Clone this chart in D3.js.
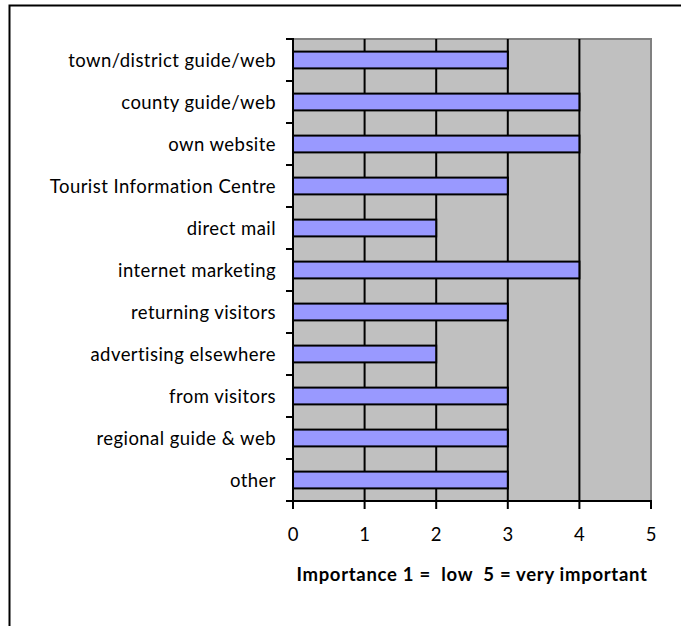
<!DOCTYPE html>
<html>
<head>
<meta charset="utf-8">
<script src="https://cdn.jsdelivr.net/npm/d3@7"></script>
<style>
  html, body { margin: 0; padding: 0; background: #fff; }
  svg { display: block; }
</style>
</head>
<body>
<svg id="chart" width="681" height="626"></svg>
<script>
// Promotion channels, top to bottom, with their rated importance
const categories = [
  "town/district guide/web",
  "county guide/web",
  "own website",
  "Tourist Information Centre",
  "direct mail",
  "internet marketing",
  "returning visitors",
  "advertising elsewhere",
  "from visitors",
  "regional guide & web",
  "other"
];
const importance = [3, 4, 4, 3, 2, 4, 3, 2, 3, 3, 3];
const xTicks = [0, 1, 2, 3, 4, 5];
const axisTitle = "Importance 1 =  low  5 = very important";

const font = "Lato, 'Open Sans', sans-serif";
const svg = d3.select("#chart");

// outer frame
svg.append("rect")
  .attr("x", 9.5).attr("y", 5.5)
  .attr("width", 700).attr("height", 700)
  .attr("fill", "#fff").attr("stroke", "#000").attr("stroke-width", 2);

const plotLeft = 293, plotRight = 651, plotTop = 39, plotBottom = 501;

const x = d3.scaleLinear().domain([0, 5]).range([plotLeft, plotRight]);
const y = d3.scaleBand().domain(categories).range([plotTop, plotBottom])
  .paddingInner(0.6).paddingOuter(0.3);
const yBounds = d3.scaleLinear().domain([0, categories.length]).range([plotTop, plotBottom]);

// plot background
svg.append("rect")
  .attr("x", plotLeft).attr("y", plotTop)
  .attr("width", plotRight - plotLeft).attr("height", plotBottom - plotTop)
  .attr("fill", "#C0C0C0").attr("stroke", "#808080").attr("stroke-width", 2);

// vertical gridlines
svg.append("g").selectAll("line")
  .data(xTicks.filter(t => t > 0 && t < 5))
  .join("line")
  .attr("x1", d => x(d)).attr("x2", d => x(d))
  .attr("y1", plotTop).attr("y2", plotBottom)
  .attr("stroke", "#000").attr("stroke-width", 2);

// bars
svg.append("g").selectAll("rect")
  .data(categories)
  .join("rect")
  .attr("x", x(0))
  .attr("y", d => y(d))
  .attr("width", (d, i) => x(importance[i]) - x(0))
  .attr("height", y.bandwidth())
  .attr("fill", "#9999FF")
  .attr("stroke", "#000").attr("stroke-width", 2);

// y axis: line, ticks at category boundaries, labels
const yAxis = svg.append("g");
yAxis.append("line")
  .attr("x1", plotLeft).attr("x2", plotLeft).attr("y1", plotTop - 1).attr("y2", plotBottom + 1)
  .attr("stroke", "#000").attr("stroke-width", 2);
yAxis.selectAll("line.tick")
  .data(d3.range(categories.length + 1))
  .join("line").attr("class", "tick")
  .attr("x1", plotLeft - 7).attr("x2", plotLeft)
  .attr("y1", d => yBounds(d)).attr("y2", d => yBounds(d))
  .attr("stroke", "#000").attr("stroke-width", 2);
yAxis.selectAll("text")
  .data(categories)
  .join("text")
  .attr("x", plotLeft - 17)
  .attr("y", d => y(d) + y.bandwidth() / 2 + 6.5)
  .attr("text-anchor", "end")
  .attr("font-family", font).attr("font-size", 18.5)
  .attr("letter-spacing", 0.45)
  .attr("fill", "#000")
  .text(d => d);

// x axis
const xAxis = svg.append("g");
xAxis.append("line")
  .attr("x1", plotLeft - 1).attr("x2", plotRight + 1).attr("y1", plotBottom).attr("y2", plotBottom)
  .attr("stroke", "#000").attr("stroke-width", 2);
xAxis.selectAll("line.tick")
  .data(xTicks)
  .join("line").attr("class", "tick")
  .attr("x1", d => x(d)).attr("x2", d => x(d))
  .attr("y1", plotBottom).attr("y2", plotBottom + 8)
  .attr("stroke", "#000").attr("stroke-width", 2);
xAxis.selectAll("text")
  .data(xTicks)
  .join("text")
  .attr("x", d => x(d))
  .attr("y", 541)
  .attr("text-anchor", "middle")
  .attr("font-family", font).attr("font-size", 18.5)
  .attr("fill", "#000")
  .text(d => d);

// axis title
svg.append("text")
  .attr("x", 472).attr("y", 580.5)
  .attr("text-anchor", "middle")
  .attr("font-family", font).attr("font-size", 18.5).attr("font-weight", "bold")
  .attr("letter-spacing", 0.7)
  .attr("fill", "#000")
  .style("white-space", "pre")
  .text(axisTitle);
</script>
</body>
</html>
